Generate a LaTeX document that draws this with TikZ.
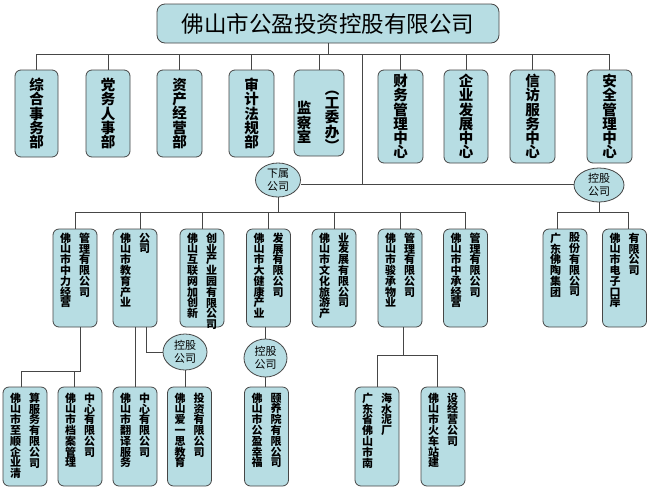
\documentclass[tikz,border=0pt]{standalone}
\usepackage{fontspec}
\usepackage{tikz}
\usetikzlibrary{shapes.geometric}
\newfontfamily\cjk{Noto Sans CJK SC}
\definecolor{boxfill}{RGB}{183,221,227}
\definecolor{lineclr}{RGB}{70,70,70}

\begin{document}
\begin{tikzpicture}
  [x=1pt, y=-1pt,
   dept/.style={draw=lineclr, fill=boxfill, line width=0.8pt, rounded corners=6pt, inner sep=0pt},
   big/.style={align=center, font=\cjk\bfseries\fontsize{14.5}{14.3}\selectfont},
   col/.style={align=center, inner sep=0pt, anchor=north, font=\cjk\bfseries\fontsize{11}{10.8}\selectfont},
   hold/.style={ellipse, draw=lineclr, fill=boxfill, line width=0.8pt, inner sep=0pt,
     minimum width=45pt, minimum height=34pt, align=center, font=\cjk\fontsize{11}{13}\selectfont},
   link/.style={draw=lineclr, line width=0.8pt}]
  \useasboundingbox[fill=white] (0,0) rectangle (650,491);

  % group
  \node[dept, rounded corners=8pt, minimum width=342pt, minimum height=39pt,
    font=\cjk\fontsize{22.5}{24}\selectfont] (gy) at (328,23.5) {佛山市公盈投资控股有限公司};

  % departments
  \node[dept, big, minimum width=43pt, minimum height=87pt] (zh) at (36.5,113.5) {综\\合\\事\\务\\部};
  \node[dept, big, minimum width=44pt, minimum height=87pt] (dw) at (108,113.5) {党\\务\\人\\事\\部};
  \node[dept, big, minimum width=45pt, minimum height=87pt] (zc) at (179.5,113.5) {资\\产\\经\\营\\部};
  \node[dept, big, minimum width=45pt, minimum height=87pt] (sj) at (251.5,113.5) {审\\计\\法\\规\\部};
  \node[dept, minimum width=50pt, minimum height=86pt] (jc) at (319,113) {};
  \node[big, inner sep=0pt] (jc-l) at (304,122.5) {监\\察\\室};
  \node[big, inner sep=0pt] (jc-r) at (332,121) {︵\\工\\委\\办\\︶};
  \node[dept, big, minimum width=45pt, minimum height=93pt] (cw) at (400.5,116.5) {财\\务\\管\\理\\中\\心};
  \node[dept, big, minimum width=44pt, minimum height=93pt] (qy) at (466,116.5) {企\\业\\发\\展\\中\\心};
  \node[dept, big, minimum width=45pt, minimum height=93pt] (xf) at (532.5,116.5) {信\\访\\服\\务\\中\\心};
  \node[dept, big, minimum width=45pt, minimum height=93pt] (aq) at (609.5,116.5) {安\\全\\管\\理\\中\\心};

  \node[hold] (xs) at (278,180) {下属\\公司};
  \node[hold, minimum width=50pt] (kg1) at (599,185) {控股\\公司};

  % subsidiaries
  \foreach \n/\x/\l/\r in {
      zl/75/佛\\山\\市\\中\\力\\经\\营/管\\理\\有\\限\\公\\司,
      jy/135/佛\\山\\市\\教\\育\\产\\业/公\\司,
      hl/202/佛\\山\\互\\联\\网\\加\\创\\新/创\\业\\产\\业\\园\\有\\限\\公\\司,
      dj/268.5/佛\\山\\市\\大\\健\\康\\产\\业/发\\展\\有\\限\\公\\司,
      wh/334/佛\\山\\市\\文\\化\\旅\\游\\产/业\\发\\展\\有\\限\\公\\司,
      jcw/400/佛\\山\\市\\骏\\承\\物\\业/管\\理\\有\\限\\公\\司,
      zcj/465.5/佛\\山\\市\\中\\承\\经\\营/管\\理\\有\\限\\公\\司,
      fd/565/广\\东\\佛\\陶\\集\\团/股\\份\\有\\限\\公\\司,
      dz/624.5/佛\\山\\市\\电\\子\\口\\岸/有\\限\\公\\司}
  {
    \node[dept, minimum width=44pt, minimum height=98pt] (\n) at (\x,278) {};
    \node[col] (\n-l) at ([xshift=-9.5pt, yshift=-4pt]\n.north) {\l};
    \node[col] (\n-r) at ([xshift=9.5pt, yshift=-4pt]\n.north) {\r};
  }

  \node[hold, minimum width=44pt, minimum height=36pt] (kg2) at (185,352) {控股\\公司};
  \node[hold, minimum width=43pt, minimum height=38pt] (kg3) at (265.5,358) {控股\\公司};

  % third level
  \foreach \n/\x/\l/\r in {
      zs/25/佛\\山\\市\\至\\顺\\企\\业\\清/算\\服\\务\\有\\限\\公\\司,
      da/80/佛\\山\\市\\档\\案\\管\\理/中\\心\\有\\限\\公\\司,
      fy/135/佛\\山\\市\\翻\\译\\服\\务/中\\心\\有\\限\\公\\司,
      ays/189.5/佛\\山\\爱\\一\\思\\教\\育/投\\资\\有\\限\\公\\司,
      xfy/266.5/佛\\山\\市\\公\\盈\\幸\\福/颐\\养\\院\\有\\限\\公\\司,
      nh/377/广\\东\\省\\佛\\山\\市\\南/海\\水\\泥\\厂,
      hc/443/佛\\山\\市\\火\\车\\站\\建/设\\经\\营\\公\\司}
  {
    \node[dept, minimum width=44pt, minimum height=99pt] (\n) at (\x,436.5) {};
    \node[col] (\n-l) at ([xshift=-9.5pt, yshift=-6pt]\n.north) {\l};
    \node[col] (\n-r) at ([xshift=9.5pt, yshift=-6pt]\n.north) {\r};
  }

  \coordinate (b1) at (331,54);
  \coordinate (b2) at (362,54);
  \coordinate (kline) at (362,184);
  \coordinate (b3) at (278,212);
  \coordinate (b4) at (80,371);
  \coordinate (b5) at (403,355);

  \draw[link] (gy) -- (gy |- b1);
  \draw[link] (zh.north |- b1) -- (aq.north |- b1);
  \foreach \b in {zh,dw,zc,sj,jc,cw,qy,xf,aq}
  \draw[link] (\b.north |- b1) -- (\b.north);
  \draw[link] (b2) -- (kline);
  \draw[link] (xs.east |- kline) -- (kg1.west |- kline);

  \draw[link] (xs) -- (xs |- b3);
  \draw[link] (zl.north |- b3) -- (zcj.north |- b3);
  \foreach \b in {zl,hl,dj,wh,jcw,zcj}
  \draw[link] (\b.north |- b3) -- (\b.north);
  \draw[link] ([xshift=5pt]jy.north |- b3) -- ([xshift=5pt]jy.north);
  \draw[link] (kg1) -- (kg1 |- b3);
  \draw[link] ([xshift=-8pt]fd.north) |- ([xshift=4pt]dz.north |- b3) -- ([xshift=4pt]dz.north);

  \draw[link] ([xshift=5pt]zl.south) -- ([xshift=5pt]zl.south |- b4) -| ([xshift=-4pt]zs.north);
  \draw[link] ([xshift=-6pt]da.north) -- ([xshift=-6pt]da.north |- b4);
  \draw[link] (jy.south -| fy) -- (fy.north);
  \draw[link] ([xshift=11pt]jy.south) |- (kg2);
  \draw[link] (kg2) -- (kg2 |- ays.north);
  \draw[link] (dj.south -| kg3) -- (kg3);
  \draw[link] (kg3) -- (kg3 |- xfy.north);
  \draw[link] ([xshift=3pt]jcw.south) -- ([xshift=3pt]jcw.south |- b5);
  \draw[link] (nh.north) |- ([xshift=-6pt]hc.north |- b5) -- ([xshift=-6pt]hc.north);
\end{tikzpicture}
\end{document}
